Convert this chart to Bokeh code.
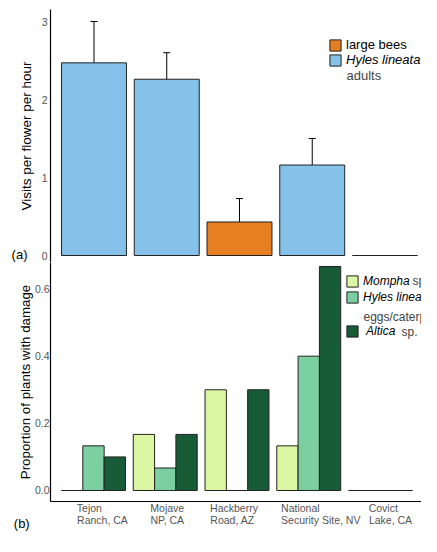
from bokeh.plotting import figure
from bokeh.layouts import column
from bokeh.models import (ColumnDataSource, Range1d, FixedTicker, Whisker, TeeHead, LinearAxis,
                          Legend, LegendItem, Label, PrintfTickFormatter, CustomJSTickFormatter)
from bokeh.transform import dodge
from bokeh.embed import file_html
from bokeh.resources import INLINE

# ---------------- data ----------------
sites = ["Tejon\nRanch, CA", "Mojave\nNP, CA", "Hackberry\nRoad, AZ",
         "National\nSecurity Site, NV", "Covict\nLake, CA"]
visitor = ["hyles", "hyles", "bees", "hyles", "hyles"]
visits = [2.47, 2.26, 0.43, 1.16, 0.0]
visits_lo = [1.93, 1.90, 0.14, 0.81, None]
visits_hi = [3.00, 2.60, 0.73, 1.50, None]

mompha = [0.0, 0.167, 0.30, 0.133, 0.0]
hyles_dmg = [0.133, 0.067, 0.0, 0.40, 0.0]
altica = [0.10, 0.167, 0.30, 0.667, 0.0]

top_ticks = [0, 1, 2, 3]
bottom_ticks = [0.0, 0.2, 0.4, 0.6]

# ---------------- styles ----------------
FONT = "Liberation Sans"
BLUE = "#85C1E9"
ORANGE = "#E67E22"
C_MOM = "#DCF7A4"
C_HYL = "#7BCFA1"
C_ALT = "#185C37"
OUT = "#222222"
TICK_COL = "#555555"
XLAB_SIZE = "10.5px"
label_shift_px = [9, 2, -3, 12, 10]   # site-label block centre relative to group centre
GROUP_PX = 71.75                      # pixels per group in bottom panel
NBSP = "\u00a0"

idx = list(range(len(sites)))


def no_ticks(ax):
    ax.major_tick_out = 0
    ax.major_tick_in = 0
    ax.minor_tick_out = 0
    ax.minor_tick_in = 0


def style_common(p):
    p.outline_line_color = None
    p.xgrid.visible = False
    p.ygrid.visible = False
    p.background_fill_color = "white"
    p.border_fill_color = "white"
    ax = p.yaxis[0]
    ax.axis_line_color = "black"
    ax.axis_line_width = 1.2
    no_ticks(ax)
    ax.major_label_text_font = FONT
    ax.major_label_text_font_size = "10.5px"
    ax.major_label_text_color = TICK_COL
    ax.major_label_standoff = 3
    ax.axis_label_text_font = FONT
    ax.axis_label_text_font_style = "normal"
    ax.axis_label_text_color = "black"


def panel_tag(text, side_ticks, standoff):
    ax = LinearAxis(ticker=FixedTicker(ticks=side_ticks),
                    formatter=CustomJSTickFormatter(args=dict(t=text), code="return t;"))
    ax.axis_line_color = None
    no_ticks(ax)
    ax.major_label_text_font = FONT
    ax.major_label_text_font_size = "13px"
    ax.major_label_text_color = "black"
    ax.major_label_standoff = standoff
    return ax


def mk_legend(items, loc, italic, size, standoff=4, spacing=1):
    return Legend(items=items, location=loc, padding=0, margin=0, spacing=spacing,
                  glyph_width=14, glyph_height=14, label_height=14, label_standoff=standoff,
                  border_line_color=None, background_fill_alpha=0,
                  label_text_font=FONT, label_text_font_size=size, label_text_color="black",
                  label_text_font_style="italic" if italic else "normal")


def mk_label(txt, x, y, size):
    return Label(x=x, y=y, x_units="screen", y_units="screen", text=txt,
                 text_font=FONT, text_font_size=size, text_baseline="middle")


# ---------------- top panel ----------------
p1 = figure(width=421, height=262, output_backend="svg", toolbar_location=None,
            x_range=Range1d(-0.598, 4.502), y_range=Range1d(-0.0897, 3.154),
            min_border_left=50, min_border_right=0, min_border_top=9, min_border_bottom=0,
            x_axis_location=None)
color_top = [BLUE if v == "hyles" else ORANGE for v in visitor]
src1 = ColumnDataSource(dict(x=idx, top=visits, color=color_top))
r1 = p1.vbar(x="x", top="top", width=0.893, source=src1, fill_color="color",
             line_color=OUT, line_width=1)
ex = [i for i, lo in zip(idx, visits_lo) if lo is not None]
elo = [lo for lo in visits_lo if lo is not None]
ehi = [hi for hi in visits_hi if hi is not None]
esrc = ColumnDataSource(dict(x=ex, lower=elo, upper=ehi))
p1.add_layout(Whisker(source=esrc, base="x", lower="lower", upper="upper",
                      line_color="black", line_width=1,
                      upper_head=TeeHead(size=7, line_color="black", line_width=1),
                      lower_head=TeeHead(size=7, line_color="black", line_width=1)))
style_common(p1)
p1.yaxis[0].ticker = FixedTicker(ticks=top_ticks)
p1.yaxis[0].axis_label = "Visits per flower per hour"
p1.yaxis[0].axis_label_text_font_size = "13.5px"
p1.yaxis[0].axis_label_standoff = 5
p1.add_layout(panel_tag("(a)", [0], -12), "left")

p1.add_layout(mk_legend([LegendItem(label="large bees", renderers=[r1], index=2)],
                        (278, 210), False, "13px"))
p1.add_layout(mk_legend([LegendItem(label="Hyles lineata", renderers=[r1], index=0)],
                        (278, 195), True, "13px"))
p1.add_layout(mk_label("adults", 296, 187, "13px"))

# ---------------- bottom panel ----------------
X2 = (-0.599, 4.571)
FB = 501   # frame bottom, in px from the top of the whole page
p2 = figure(width=421, height=274, output_backend="svg", toolbar_location=None,
            x_range=Range1d(*X2), y_range=Range1d(-0.0328, 0.679),
            min_border_left=50, min_border_right=0, min_border_top=0, min_border_bottom=35)
src2 = ColumnDataSource(dict(x=idx, mompha=mompha, hyles=hyles_dmg, altica=altica))
bw = 0.297
rm = p2.vbar(x=dodge("x", -bw, range=p2.x_range), top="mompha", width=bw, source=src2,
             fill_color=C_MOM, line_color=OUT, line_width=1)
rh = p2.vbar(x=dodge("x", 0, range=p2.x_range), top="hyles", width=bw, source=src2,
             fill_color=C_HYL, line_color=OUT, line_width=1)
ra = p2.vbar(x=dodge("x", bw, range=p2.x_range), top="altica", width=bw, source=src2,
             fill_color=C_ALT, line_color=OUT, line_width=1)
style_common(p2)
p2.yaxis[0].ticker = FixedTicker(ticks=bottom_ticks)
p2.yaxis[0].formatter = PrintfTickFormatter(format="%.1f")
p2.yaxis[0].major_label_standoff = 1
p2.yaxis[0].axis_label = "Proportion of plants with damage"
p2.yaxis[0].axis_label_text_font_size = "13.3px"
p2.yaxis[0].axis_label_standoff = -1

# site labels: lines are visually left-aligned inside each (centred) label block
xa = p2.xaxis[0]
xa.ticker = FixedTicker(ticks=[i + o / GROUP_PX for i, o in zip(idx, label_shift_px)])
xa.formatter = CustomJSTickFormatter(args=dict(labels=sites, font=XLAB_SIZE + " '" + FONT + "'"), code="""
    const lines = labels[Math.round(tick)].split("\\n");
    const ctx = document.createElement("canvas").getContext("2d");
    ctx.font = font;
    const w = lines.map(l => ctx.measureText(l).width);
    const mx = Math.max(...w);
    const sp = ctx.measureText("\\u00a0").width;
    return lines.map((l, i) => l + "\\u00a0".repeat(Math.max(0, Math.round((mx - w[i]) / sp)))).join("\\n");
""")
xa.axis_line_color = "black"
xa.axis_line_width = 1.2
no_ticks(xa)
xa.major_label_text_font = FONT
xa.major_label_text_font_size = XLAB_SIZE
xa.major_label_text_color = TICK_COL
xa.major_label_text_line_height = 1.0
xa.major_label_standoff = 0
p2.add_layout(panel_tag("(b)" + NBSP * 16, [X2[0] + 0.002], -13), "below")

p2.add_layout(mk_legend([LegendItem(label="Mompha", renderers=[rm]),
                         LegendItem(label="Hyles lineata", renderers=[rh])],
                        (295, FB - 304), True, "12px", spacing=2))
p2.add_layout(mk_legend([LegendItem(label="Altica", renderers=[ra])],
                        (295, FB - 338), True, "12px", standoff=7))
p2.add_layout(mk_label("sp.", 362, FB - 280, "12px"))
p2.add_layout(mk_label("eggs/caterpillars", 313, FB - 316, "12px"))
p2.add_layout(mk_label("sp.", 351, FB - 331, "12px"))

layout = column(p1, p2, spacing=0)
open("out.html", "w").write(file_html(layout, INLINE))
